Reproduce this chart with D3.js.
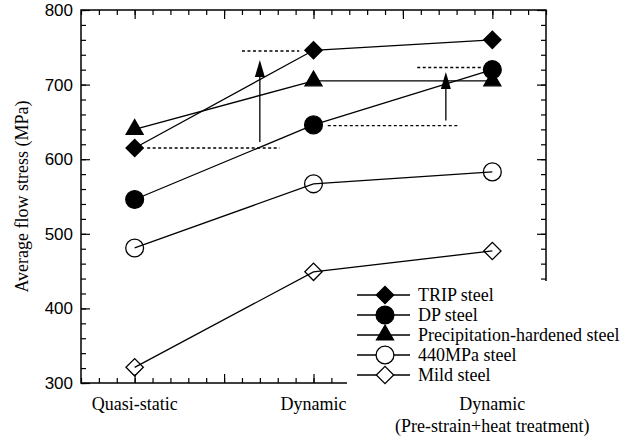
<!DOCTYPE html>
<html>
<head>
<meta charset="utf-8">
<script src="https://cdn.jsdelivr.net/npm/d3@7"></script>
<style>
  body { margin: 0; background: #fff; }
  svg text { font-family: "Liberation Serif", "Times New Roman", serif; fill: #000; }
</style>
</head>
<body>
<svg id="chart" width="633" height="440"></svg>
<script>
// data
const categories = ["Quasi-static", "Dynamic", "Dynamic|(Pre-strain+heat treatment)"];
const seriesNames = ["TRIP steel", "DP steel", "Precipitation-hardened steel", "440MPa steel", "Mild steel"];
const tripSteel = [615, 746, 760];
const dpSteel = [546, 646, 720];
const precipSteel = [640, 705, 705];
const mpa440Steel = [481, 567, 583];
const mildSteel = [321, 449, 477];
const yTicks = [300, 400, 500, 600, 700, 800];

// dashed reference levels [x0, x1, value] and arrows [x, from, to] (x in category units)
const dashedLevels = [[0.07, 0.81, 615], [0.60, 0.92, 745], [1.08, 1.81, 645], [1.58, 1.95, 723]];
const arrows = [[0.70, 623, 733], [1.74, 652, 717]];

const series = [
  { name: seriesNames[0], values: tripSteel, shape: "diamond", filled: true },
  { name: seriesNames[1], values: dpSteel, shape: "circle", filled: true },
  { name: seriesNames[2], values: precipSteel, shape: "triangle", filled: true },
  { name: seriesNames[3], values: mpa440Steel, shape: "circle", filled: false },
  { name: seriesNames[4], values: mildSteel, shape: "diamond", filled: false }
];

const svg = d3.select("#chart");
const plotL = 81, plotR = 546, plotT = 10, plotB = 383;

const x = d3.scaleLinear().domain([-0.3, 2.3]).range([plotL, plotR]);
const y = d3.scaleLinear().domain([300, 800]).range([plotB, plotT]);

function symbolPath(shape) {
  if (shape === "circle") return d3.symbol(d3.symbolCircle, 250)();
  if (shape === "triangle") return d3.symbol(d3.symbolTriangle, 125)();
  return d3.symbol(d3.symbolSquare, 150)();
}
function symbolRotate(shape) {
  return shape === "diamond" ? " rotate(45)" : "";
}

// frame ticks (all inward)
const minorX = d3.range(-3, 24).map(d => d / 10);
const majorX = [0, 0.5, 1, 1.5, 2];
const minorY = d3.range(300, 801, 20);

svg.append("g").attr("transform", `translate(0,${plotB})`)
  .call(d3.axisBottom(x).tickValues(minorX).tickSize(-5).tickSizeOuter(0).tickFormat(""));
svg.append("g").attr("transform", `translate(0,${plotB})`)
  .call(d3.axisBottom(x).tickValues(majorX).tickSize(-9).tickSizeOuter(0).tickFormat(""));
svg.append("g").attr("transform", `translate(0,${plotT})`)
  .call(d3.axisTop(x).tickValues(minorX).tickSize(-5).tickSizeOuter(0).tickFormat(""));
svg.append("g").attr("transform", `translate(0,${plotT})`)
  .call(d3.axisTop(x).tickValues(majorX).tickSize(-9).tickSizeOuter(0).tickFormat(""));

svg.append("g").attr("transform", `translate(${plotL},0)`)
  .call(d3.axisLeft(y).tickValues(minorY).tickSize(-5).tickSizeOuter(0).tickFormat(""));
const yAxis = svg.append("g").attr("transform", `translate(${plotL},0)`)
  .call(d3.axisLeft(y).tickValues(yTicks).tickSize(-9).tickSizeOuter(0).tickPadding(8).tickFormat(d3.format("d")));
svg.append("g").attr("transform", `translate(${plotR},0)`)
  .call(d3.axisRight(y).tickValues(minorY).tickSize(-5).tickSizeOuter(0).tickFormat(""));
svg.append("g").attr("transform", `translate(${plotR},0)`)
  .call(d3.axisRight(y).tickValues(yTicks).tickSize(-9).tickSizeOuter(0).tickFormat(""));

svg.selectAll(".domain").remove();
svg.selectAll(".tick line").attr("stroke", "#000").attr("stroke-width", 1.2);
yAxis.selectAll("text")
  .style("font-family", "'Liberation Sans', Arial, sans-serif")
  .style("font-size", "17px");

svg.append("rect")
  .attr("x", plotL).attr("y", plotT)
  .attr("width", plotR - plotL).attr("height", plotB - plotT)
  .attr("fill", "none").attr("stroke", "#000").attr("stroke-width", 1.5);

// y title
svg.append("text")
  .attr("transform", `translate(28,${(plotT + plotB) / 2}) rotate(-90)`)
  .attr("text-anchor", "middle")
  .style("font-size", "18px")
  .text("Average flow stress (MPa)");

// category labels
categories.forEach((c, i) => {
  const t = svg.append("text")
    .attr("text-anchor", "middle")
    .style("font-size", "18px");
  c.split("|").forEach((line, k) => {
    t.append("tspan").attr("x", x(i)).attr("y", 410 + k * 22).text(line);
  });
});

// dashed levels
svg.append("g").selectAll("line")
  .data(dashedLevels)
  .join("line")
  .attr("x1", d => x(d[0])).attr("x2", d => x(d[1]))
  .attr("y1", d => y(d[2])).attr("y2", d => y(d[2]))
  .attr("stroke", "#000").attr("stroke-width", 1.4)
  .attr("stroke-dasharray", "3,2.5");

// arrows
const arrowG = svg.append("g").selectAll("g").data(arrows).join("g");
arrowG.append("line")
  .attr("x1", d => x(d[0])).attr("x2", d => x(d[0]))
  .attr("y1", d => y(d[1])).attr("y2", d => y(d[2]) + 10)
  .attr("stroke", "#000").attr("stroke-width", 1.3);
arrowG.append("path")
  .attr("d", d => {
    const ax = x(d[0]), ay = y(d[2]);
    return `M${ax},${ay} L${ax - 5},${ay + 17} L${ax + 5},${ay + 17} Z`;
  })
  .attr("fill", "#000");

// series lines
const line = d3.line().x((d, i) => x(i)).y(d => y(d));
svg.append("g").selectAll("path")
  .data(series)
  .join("path")
  .attr("d", d => line(d.values))
  .attr("fill", "none").attr("stroke", "#000").attr("stroke-width", 1.3);

// markers
series.forEach(s => {
  svg.append("g").selectAll("path")
    .data(s.values)
    .join("path")
    .attr("d", symbolPath(s.shape))
    .attr("transform", (d, i) => `translate(${x(i)},${y(d)})${symbolRotate(s.shape)}`)
    .attr("fill", s.filled ? "#000" : "none")
    .attr("stroke", "#000").attr("stroke-width", 1.3);
});

// legend (white box covers the frame corner)
svg.append("rect")
  .attr("x", 347).attr("y", 281).attr("width", 286).attr("height", 112)
  .attr("fill", "#fff");

const legend = svg.append("g").selectAll("g")
  .data(series)
  .join("g")
  .attr("transform", (d, i) => `translate(357,${295 + i * 20})`);
legend.append("line")
  .attr("x1", 0).attr("x2", 53)
  .attr("stroke", "#000").attr("stroke-width", 1.3);
legend.append("path")
  .attr("d", d => symbolPath(d.shape))
  .attr("transform", d => `translate(28,0)${symbolRotate(d.shape)}`)
  .attr("fill", d => d.filled ? "#000" : "#fff")
  .attr("stroke", "#000").attr("stroke-width", 1.3);
legend.append("text")
  .attr("x", 61).attr("y", 6)
  .style("font-size", "18px")
  .text(d => d.name);
</script>
</body>
</html>
